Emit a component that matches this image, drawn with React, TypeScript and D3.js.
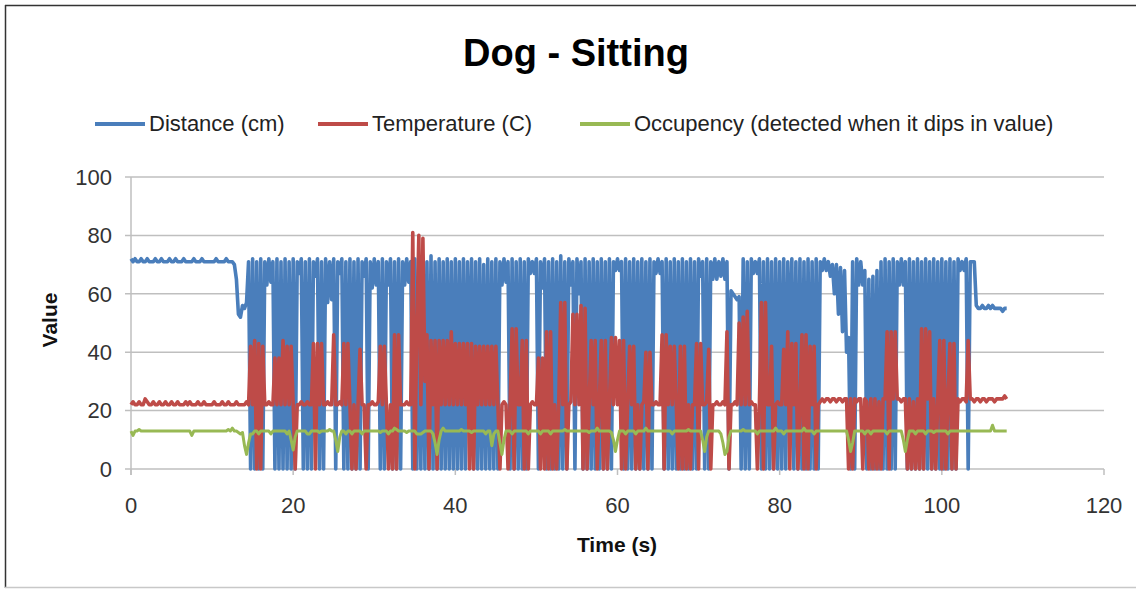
import React from 'react';
import * as d3 from 'd3';

// samples every 0.25 s (one row = 5 s)
const sampleStep = 0.25;

const distance = [
  72,71,72,71,71,72,71,71,72,71,71,71,72,71,71,72,71,71,71,72,
  71,71,72,71,71,71,72,71,71,71,71,72,71,71,71,72,71,71,71,71,
  71,71,72,71,71,71,71,72,71,71,71,70,65,53,52,56,55,57,71,0,
  72,0,71,0,72,0,71,63,72,64,71,0,72,0,71,0,72,0,71,0,
  72,0,71,67,72,0,71,0,72,0,71,66,72,0,71,0,72,57,71,58,
  72,0,71,67,72,0,71,0,72,0,71,0,72,0,71,66,72,0,71,62,
  72,63,71,0,72,0,71,63,72,0,71,0,72,0,71,63,72,64,71,0,
  72,0,71,0,72,0,71,0,73,0,71,0,72,0,71,0,72,0,71,0,
  72,0,71,0,72,0,71,20,72,0,71,0,72,0,70,0,72,0,71,0,
  72,0,71,63,72,64,71,0,72,0,71,0,72,0,71,0,72,67,71,67,
  72,0,71,62,72,0,71,0,72,0,71,0,73,0,71,0,72,63,71,0,
  72,60,71,0,72,0,71,0,72,0,71,0,72,0,71,0,72,0,71,68,
  72,68,71,0,72,0,71,0,72,0,71,0,72,0,71,0,72,0,71,67,
  72,67,71,0,72,0,71,0,72,0,71,0,72,0,71,0,72,0,71,0,
  72,66,71,0,72,0,71,65,72,65,71,66,72,65,71,0,61,60,59,58,
  59,0,72,0,71,0,72,67,71,67,72,0,71,0,72,0,71,0,72,0,
  71,0,72,0,71,30,72,0,71,0,72,0,71,0,72,0,71,0,72,0,
  71,68,72,68,71,66,70,60,70,53,69,47,68,40,45,0,71,0,72,63,
  71,63,68,0,65,0,66,0,68,0,71,0,72,0,71,0,72,0,71,63,
  72,63,71,0,72,0,71,0,72,0,71,0,72,0,71,0,72,0,71,0,
  72,0,71,0,72,0,71,0,72,68,71,68,72,0,71,71,71,56,55,55,
  56,55,55,56,55,56,55,55,55,55,54,55,55,
];

const temperature = [
  22,23,22,22,23,22,22,24,23,22,22,23,22,22,23,22,22,23,22,22,
  23,22,22,23,22,22,22,23,22,23,22,22,22,23,22,22,23,22,22,22,
  22,23,22,22,22,23,22,22,23,22,22,22,23,22,22,22,22,23,22,42,
  22,44,0,43,0,42,22,22,23,22,22,38,22,38,22,44,22,42,22,42,
  22,0,22,22,23,22,22,23,22,22,43,0,43,22,43,22,22,23,22,22,
  46,22,22,23,22,43,22,43,22,0,22,0,22,41,22,22,0,22,22,23,
  22,22,23,42,22,42,22,0,22,0,46,0,46,22,22,22,23,22,22,81,
  0,48,80,22,79,30,46,0,44,22,44,0,44,22,44,22,44,22,47,22,
  43,22,43,22,43,22,43,0,43,0,42,22,42,22,42,22,42,22,42,22,
  42,22,0,22,23,22,0,22,48,0,48,22,22,44,0,44,0,22,23,22,
  22,38,0,38,0,47,0,47,0,22,0,22,57,22,57,0,22,23,53,22,
  53,22,56,0,55,0,22,44,22,44,0,22,44,0,44,0,22,45,22,45,
  22,44,0,44,0,22,42,22,42,0,22,0,22,23,40,0,40,22,22,23,
  22,22,46,0,46,22,42,22,42,22,0,42,0,42,0,22,0,22,22,43,
  0,43,22,22,23,41,0,22,22,23,22,22,23,22,47,0,22,22,23,22,
  50,22,52,22,54,22,23,22,22,0,22,57,0,57,22,22,42,0,22,23,
  22,22,41,22,47,0,43,22,43,0,22,46,0,46,0,42,22,42,0,22,
  23,24,23,24,24,23,24,24,23,24,24,23,24,24,0,24,0,24,23,24,
  24,0,24,23,0,24,0,24,0,23,0,24,24,47,0,47,24,47,24,24,
  23,24,24,0,24,0,23,0,24,0,48,0,48,24,47,0,24,0,24,44,
  0,44,0,24,43,0,43,0,24,23,24,24,23,44,24,24,23,24,24,23,
  24,24,23,24,24,24,23,24,24,24,24,25,24,
];

const occupancy = [
  13,11.5,13,13,13.5,13,13,13,13,13,13,13,13,13,13,13,13,13,13,13,
  13,13,13,13,13,13,13,13,13,13,11.5,13,13,13,13,13,13,13,13,13,
  13,13,13,13,13,13,13,13,13.5,13,14,13,13,12.5,12,12.5,8,5,9,12,
  12,13,13,12,13,13,13,13,13,12,13,13,13,13,13,13,13,12,13,10,
  6.5,11,13,13,13,13,13,12,12,13,13,13,13,12.5,13,13,13,13,13.5,13,
  13,10,6,11,13,13,12,13,13,12,13,13,13,13,12,13,13,13,13,13,
  13,13,13,12.5,13,13,13,12,13,13,14,13.5,13,13,13,13,12.5,13,13,13,
  13,12,12,12,12.5,13,13,13,13,12,9,5,10,13,14,13,13,13,13,13,
  13,13,13,13.5,13,13,13,13,12.5,13,13,13,13,13,13,12,13,13,8,12,
  13,13,9,5,10,13,13,13,12,13,13,13,13,13,13,13,12,13,13,13,
  13,13,12,13,13,13,13,12,13,13,13,13,13,13,13.5,13,13,13,13,13,
  13,13,13,13,13,13,12.5,13,13,13,14,13,13,13,13,13,13,12.5,10,6,
  10,13,13,13,12,13,13,13,13,12,13,13,13,13,14,13,13,13,13,13,
  13,13,13,13,13,13,13,12,13,13,13,13,13,13,13,13.5,13,13,13,13,
  13,13,10,6,11,13,13,13,13,13,13,12,9,5,6,11,13,13,13,13,
  13,13,13.5,13,13,13,13,13,13,12,13,13,13,13,13,13,13,13,14,13,
  13,13,12,13,13,13,13,13,13,13,13,13,14,13,13,13,13,12,13,13,
  13,13,13,13,13,13,13,13,13,13,13,13,13,13,10,6,9,13,13,13,
  13,13,12,13,13,12,13,13,13,13,13,13,13,12,13,13,13,13,13,13,
  13,10,6,10,13,13,13,12,13,13,13,13,12,13,13,13,12.5,13,13,13,
  13,13,13,12,13,13,13,13,13,13,13,13,13,13,13,13,13,13,13,13,
  13,13,13,13,13,15,13,13,13,13,13,13,13,
];

const xTicks = [0, 20, 40, 60, 80, 100, 120];
const yTicks = [0, 20, 40, 60, 80, 100];

const seriesNames = ['Distance (cm)', 'Temperature (C)', 'Occupency (detected when it dips in value)'];
const seriesColors = ['#4a7ebb', '#be4b48', '#98b954'];
const seriesWidths = [3.6, 3.6, 3];

const W = 1136;
const H = 590;
const FONT = '"Liberation Sans", Arial, sans-serif';

const App: React.FC = () => {
  const x = d3.scaleLinear().domain([0, 120]).range([131, 1104]);
  const y = d3.scaleLinear().domain([0, 100]).range([469, 177]);

  const line = d3.line<number>()
    .x((_, i) => x(i * sampleStep))
    .y(d => y(d));

  const series = [distance, temperature, occupancy];
  const legendX = [95, 318, 580];

  return (
    <svg width={W} height={H} style={{ position: 'absolute', left: 0, top: 0, background: '#fff' }}>
      {/* frame */}
      <line x1={5.5} y1={5} x2={5.5} y2={588} stroke="#333" strokeWidth={1.5} />
      <line x1={5} y1={5.5} x2={W} y2={5.5} stroke="#333" strokeWidth={1.5} />
      <line x1={5} y1={587.5} x2={W} y2={587.5} stroke="#c8c8c8" strokeWidth={1.5} />

      <text x={576} y={66} textAnchor="middle" fontFamily={FONT} fontWeight="bold" fontSize={38} fill="#000">
        Dog - Sitting
      </text>

      {/* legend */}
      {seriesNames.map((name, i) => (
        <g key={name}>
          <line x1={legendX[i]} x2={legendX[i] + 50} y1={124} y2={124} stroke={seriesColors[i]} strokeWidth={4} />
          <text x={legendX[i] + 54} y={131} fontFamily={FONT} fontSize={22} fill="#222">{name}</text>
        </g>
      ))}

      {/* grid + axes */}
      {yTicks.map(t => (
        <g key={'y' + t}>
          <line x1={125} x2={1104} y1={y(t)} y2={y(t)} stroke="#bfbfbf" strokeWidth={1.5} />
          <text x={112} y={y(t)} dy="0.35em" textAnchor="end" fontFamily={FONT} fontSize={22} fill="#333">{t}</text>
        </g>
      ))}
      <line x1={x(0)} x2={x(0)} y1={177} y2={475} stroke="#bfbfbf" strokeWidth={1.5} />
      {xTicks.map(t => (
        <g key={'x' + t}>
          <line x1={x(t)} x2={x(t)} y1={469} y2={475} stroke="#bfbfbf" strokeWidth={1.5} />
          <text x={x(t)} y={513} textAnchor="middle" fontFamily={FONT} fontSize={22} fill="#333">{t}</text>
        </g>
      ))}

      <text x={617} y={552} textAnchor="middle" fontFamily={FONT} fontWeight="bold" fontSize={21} fill="#111">Time (s)</text>
      <text transform="translate(57,320) rotate(-90)" textAnchor="middle" fontFamily={FONT} fontWeight="bold" fontSize={21} fill="#111">Value</text>

      {/* series */}
      {series.map((s, i) => (
        <path key={i} d={line(s) || ''} fill="none" stroke={seriesColors[i]} strokeWidth={seriesWidths[i]} strokeLinejoin="round" />
      ))}
    </svg>
  );
};

export default App;
